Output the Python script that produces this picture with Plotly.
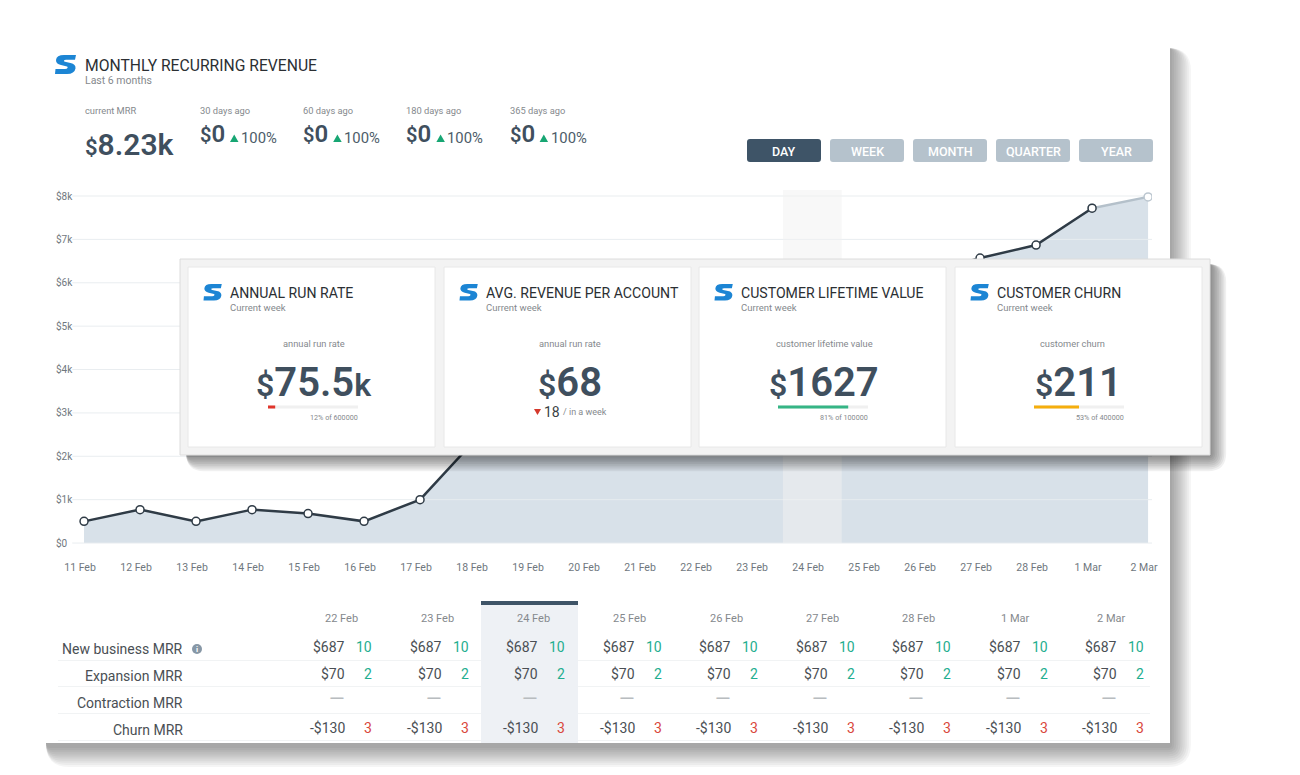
import plotly.graph_objects as go

W, H = 1300, 775
FONT = "Roboto"
DARK = "#3f4f5e"
GREY = "#85898d"

# chart data
dates = ["11 Feb", "12 Feb", "13 Feb", "14 Feb", "15 Feb", "16 Feb", "17 Feb", "18 Feb", "19 Feb", "20 Feb",
         "21 Feb", "22 Feb", "23 Feb", "24 Feb", "25 Feb", "26 Feb", "27 Feb", "28 Feb", "1 Mar", "2 Mar"]
mrr = [500, 770, 500, 770, 680, 500, 1000, 2400, 3150, 3700,
       4100, 4600, 5000, 5400, 5800, 6200, 6570, 6870, 7720, 7980]
y_ticks = [0, 1000, 2000, 3000, 4000, 5000, 6000, 7000, 8000]
y_labels = ["$0", "$1k", "$2k", "$3k", "$4k", "$5k", "$6k", "$7k", "$8k"]
highlight_date = "24 Feb"

# header stats
history_labels = ["30 days ago", "60 days ago", "180 days ago", "365 days ago"]
history_values = ["0", "0", "0", "0"]
history_change = ["100%", "100%", "100%", "100%"]
buttons = ["DAY", "WEEK", "MONTH", "QUARTER", "YEAR"]

# overlay cards
card_titles = ["ANNUAL RUN RATE", "AVG. REVENUE PER ACCOUNT", "CUSTOMER LIFETIME VALUE", "CUSTOMER CHURN"]
card_labels = ["annual run rate", "annual run rate", "customer lifetime value", "customer churn"]
card_values = ["75.5", "68", "1627", "211"]
card_suffix = ["k", "", "", ""]
bar_fill = [8, None, 78, 50]
bar_notes = ["12% of 600000", None, "81% of 100000", "53% of 400000"]
bar_colors = ["#e0352b", None, "#35b585", "#f5ae0c"]

# table
table_dates = ["22 Feb", "23 Feb", "24 Feb", "25 Feb", "26 Feb", "27 Feb", "28 Feb", "1 Mar", "2 Mar"]
row_labels = ["New business MRR", "Expansion MRR", "Contraction MRR", "Churn MRR"]
new_business = ["$687"] * 9
new_business_n = ["10"] * 9
expansion = ["$70"] * 9
expansion_n = ["2"] * 9
contraction = ["—"] * 9
contraction_n = [""] * 9
churn = ["-$130"] * 9
churn_n = ["3"] * 9
row_values = [new_business, expansion, contraction, churn]
row_counts = [new_business_n, expansion_n, contraction_n, churn_n]
row_count_colors = ["#1fae8f", "#1fae8f", "#1fae8f", "#d9483b"]


def px(x):
    return x / W


def py(y):
    return 1 - y / H


def rect(x0, y0, x1, y1, color, layer="below", line=None):
    return dict(type="rect", xref="paper", yref="paper", x0=px(x0), x1=px(x1), y0=py(y0), y1=py(y1),
                fillcolor=color, layer=layer, line=dict(color=line or color, width=1 if line else 0))


def rounded(x0, y0, x1, y1, r):
    # caminho com cantos arredondados em coordenadas de papel
    pts = [("M", x0 + r, y0), ("L", x1 - r, y0), ("Q", x1, y0, x1, y0 + r), ("L", x1, y1 - r),
           ("Q", x1, y1, x1 - r, y1), ("L", x0 + r, y1), ("Q", x0, y1, x0, y1 - r), ("L", x0, y0 + r),
           ("Q", x0, y0, x0 + r, y0)]
    out = []
    for p in pts:
        vals = p[1:]
        coords = [f"{px(vals[i]):.5f},{py(vals[i + 1]):.5f}" for i in range(0, len(vals), 2)]
        out.append(p[0] + " ".join(coords))
    return " ".join(out) + " Z"


def box(x0, y0, x1, y1, r, color, layer="below", opacity=1):
    return dict(type="path", xref="paper", yref="paper", path=rounded(x0, y0, x1, y1, r), fillcolor=color,
                layer=layer, opacity=opacity, line=dict(width=0))


def shadow(x0, y0, x1, y1, steps, grow, alpha, layer):
    return [box(x0, y0, x1 + grow * (steps - i), y1 + grow * (steps - i), 2 + grow * (steps - i), "#000000", layer, alpha)
            for i in range(steps)]


def polygon(points, color, layer="above"):
    path = "M" + " L".join(f"{px(a):.5f},{py(b):.5f}" for a, b in points) + " Z"
    return dict(type="path", xref="paper", yref="paper", path=path, fillcolor=color, layer=layer, line=dict(width=0))


def logo(x, y, s, layer="above"):
    u = [("M", 21, 0), ("L", 9, 0), ("Q", 1.5, 0, 1, 5), ("Q", .8, 9, 6, 10), ("L", 12, 11.5), ("Q", 13, 12, 12.5, 13),
         ("Q", 12, 14, 10, 14), ("L", .5, 14), ("L", 0, 19), ("L", 12, 19), ("Q", 19.5, 19, 20.5, 13.5),
         ("Q", 21, 9, 15.5, 8), ("L", 10, 6.8), ("Q", 8.5, 6.4, 9, 5.5), ("Q", 9.5, 4.8, 11, 4.8), ("L", 20, 4.8)]
    out = []
    for p in u:
        vals = p[1:]
        coords = [f"{px(x + vals[i] * s):.5f},{py(y + vals[i + 1] * s):.5f}" for i in range(0, len(vals), 2)]
        out.append(p[0] + " ".join(coords))
    return dict(type="path", xref="paper", yref="paper", path=" ".join(out) + " Z", fillcolor="#1c85d4",
                layer=layer, line=dict(width=0))


def text(x, y, s, size, color=GREY, anchor="left", weight=400):
    # a anotacao fica 1px para dentro, compensa aqui
    x = x + {"left": -1, "right": 1, "center": 0}[anchor]
    return dict(text=s, x=px(x), y=py(y), xref="paper", yref="paper", showarrow=False, xanchor=anchor, yanchor="middle",
                borderpad=0, font=dict(family=FONT, size=size, color=color, weight=weight))


shapes = []
notes = []

# cartao principal
shapes += shadow(46, 48, 1170, 746, 10, 2.1, 0.04, "below")
shapes.append(rect(40, 42, 1170, 743, "#ffffff"))
shapes.append(logo(55, 55, 1))
notes.append(text(85, 65, "MONTHLY RECURRING REVENUE", 15.7, "#2b2f33"))
notes.append(text(85, 81, "Last 6 months", 10.5))

notes.append(text(85, 111, "current MRR", 9.3))
notes.append(text(85, 144, '<span style="font-size:22px">$</span>8.23k', 30, DARK, weight=600))
for i, (lab, val, chg) in enumerate(zip(history_labels, history_values, history_change)):
    x = 200 + 103.2 * i
    notes.append(text(x, 111, lab, 9.3))
    notes.append(text(x, 134, f'<span style="font-size:20px">$</span>{val}', 24, DARK, weight=600))
    notes.append(text(x + 41, 138, chg, 14.8, "#4d5c69"))
    shapes.append(polygon([(x + 30, 142), (x + 38.5, 142), (x + 34.2, 134.5)], "#17a673", "below"))

for i, lab in enumerate(buttons):
    x = 747 + 83 * i
    shapes.append(box(x, 139, x + 74, 162, 3, "#3e5467" if i == 0 else "#b5c2cc"))
    notes.append(text(x + 37, 151, lab, 12.5, "#ffffff", "center", 500))

# tabela
for y in [660, 686, 713, 740]:
    shapes.append(rect(58, y, 1150, y + 1, "#f1f3f4"))
shapes.append(rect(481, 601, 578, 743, "#eef1f5"))
shapes.append(rect(481, 601, 578, 605, "#3e5467"))
row_y = [647, 674, 701, 728]
for i, d in enumerate(table_dates):
    notes.append(text(341 + 96.25 * i, 618, d, 11, GREY, "center"))
for r, lab in enumerate(row_labels):
    notes.append(text(183, row_y[r] + 2, lab, 14, "#4a4f54", "right"))
    for i in range(len(table_dates)):
        if row_values[r][i] == "—":
            notes.append(text(337 + 96.5 * i, row_y[r] - 2, row_values[r][i], 20, "#b8bcbf", "center"))
        else:
            notes.append(text(345 + 96.5 * i, row_y[r], row_values[r][i], 14, "#4a4f54", "right"))
        if row_counts[r][i]:
            notes.append(text(372 + 96.5 * i, row_y[r], row_counts[r][i], 14, row_count_colors[r], "right"))
shapes.append(dict(type="circle", xref="paper", yref="paper", x0=px(192), x1=px(202), y0=py(654), y1=py(644),
                   fillcolor="#8797a6", layer="below", line=dict(width=0)))
notes.append(text(197, 649, "i", 8, "#ffffff", "center", 700))

# faixa do dia selecionado
k = dates.index(highlight_date)
shapes.append(dict(type="rect", xref="x", yref="y", x0=k - 0.52, x1=k + 0.53, y0=0, y1=8140,
                   fillcolor="#f2f2f2", opacity=0.5, layer="above", line=dict(width=0)))

# cartoes sobrepostos
shapes += shadow(186, 264, 1210, 455, 9, 1.8, 0.06, "above")
shapes.append(rect(180, 259, 1210, 455, "#f3f3f3", "above", "#dcdcdc"))
centers = [314, 570, 824, 1078]
for i, x in enumerate([188, 444, 699, 955]):
    shapes.append(rect(x, 267, x + 247, 447, "#ffffff", "above", "#e8e8e8"))
    shapes.append(logo(x + 15.5, 284, 0.87))
    notes.append(text(x + 42, 293, card_titles[i], 14.1, "#2b2f33"))
    notes.append(text(x + 42, 307.5, "Current week", 9.5))
    notes.append(text(centers[i] - (6 if i == 3 else 0), 343, card_labels[i], 9.3, GREY, "center"))
    val = f'<span style="font-size:32px">$</span>{card_values[i]}{card_suffix[i]}'
    if card_suffix[i]:
        val = f'<span style="font-size:32px">$</span>{card_values[i]}<span style="font-size:32px">{card_suffix[i]}</span>'
    notes.append(text(centers[i], 382, val, 40, DARK, "center", 600))
    if bar_fill[i] is not None:
        x0 = [268, None, 778, 1034][i]
        shapes.append(rect(x0, 405.5, x0 + 90, 408.5, "#f0f0f0", "above"))
        shapes.append(rect(x0, 405.5, x0 + 90 * bar_fill[i] / 100, 408.5, bar_colors[i], "above"))
        notes.append(text(x0 + 90, 417, bar_notes[i], 7.2, GREY, "right"))
shapes.append(polygon([(534, 409), (541, 409), (537.5, 415)], "#d5392c"))
notes.append(text(544, 412, "18", 14, "#3a3f44"))
notes.append(text(563, 412, "/ in a week", 9))

fig = go.Figure()

# area
fig.add_trace(go.Scatter(x=list(range(len(dates))), y=mrr, mode="none", fill="tozeroy", fillcolor="#d8e1e9", hoverinfo="skip"))

# grade por cima da area
grid_x, grid_y = [], []
for v in y_ticks:
    grid_x += [-0.21, 19.07, None]
    grid_y += [v, v, None]
fig.add_trace(go.Scatter(x=grid_x, y=grid_y, mode="lines", line=dict(color="rgba(232,236,239,0.95)", width=1), hoverinfo="skip"))

# linha principal
fig.add_trace(go.Scatter(
    x=list(range(len(dates)))[-2:], y=mrr[-2:], mode="lines+markers",
    line=dict(color="#b4c0ca", width=2.5),
    marker=dict(size=8, color="#ffffff", line=dict(color="#bcc7d0", width=1.5)),
))
fig.add_trace(go.Scatter(
    x=list(range(len(dates)))[:-1], y=mrr[:-1], mode="lines+markers",
    line=dict(color="#2f3b46", width=2.5),
    marker=dict(size=8, color="#ffffff", line=dict(color="#2f3b46", width=1.5)),
))

fig.update_layout(
    width=W, height=H,
    margin=dict(l=0, r=0, t=0, b=0, autoexpand=False),
    paper_bgcolor="#ffffff",
    plot_bgcolor="rgba(0,0,0,0)",
    showlegend=False,
    font=dict(family=FONT),
    shapes=shapes,
    annotations=notes,
    xaxis=dict(
        domain=[px(53), px(1152)],
        range=[-0.554, 19.07],
        tickmode="array", tickvals=list(range(len(dates))), ticktext=dates,
        ticklabelshift=-4,
        ticks="", showgrid=False, zeroline=False, showline=False,
        tickfont=dict(family=FONT, size=10.5, color="#6f777e"),
    ),
    yaxis=dict(
        domain=[py(559), py(170)],
        range=[-368, 8600],
        tickmode="array", tickvals=y_ticks, ticktext=y_labels,
        ticklabelposition="inside",
        ticks="", showgrid=False, zeroline=False, showline=False,
        tickfont=dict(family=FONT, size=10, color="#6f777e"),
    ),
)

# tira a margem padrao do body para alinhar com a janela
fig.write_html("out.html", post_script="document.body.style.margin='0';", config=dict(displayModeBar=False))
